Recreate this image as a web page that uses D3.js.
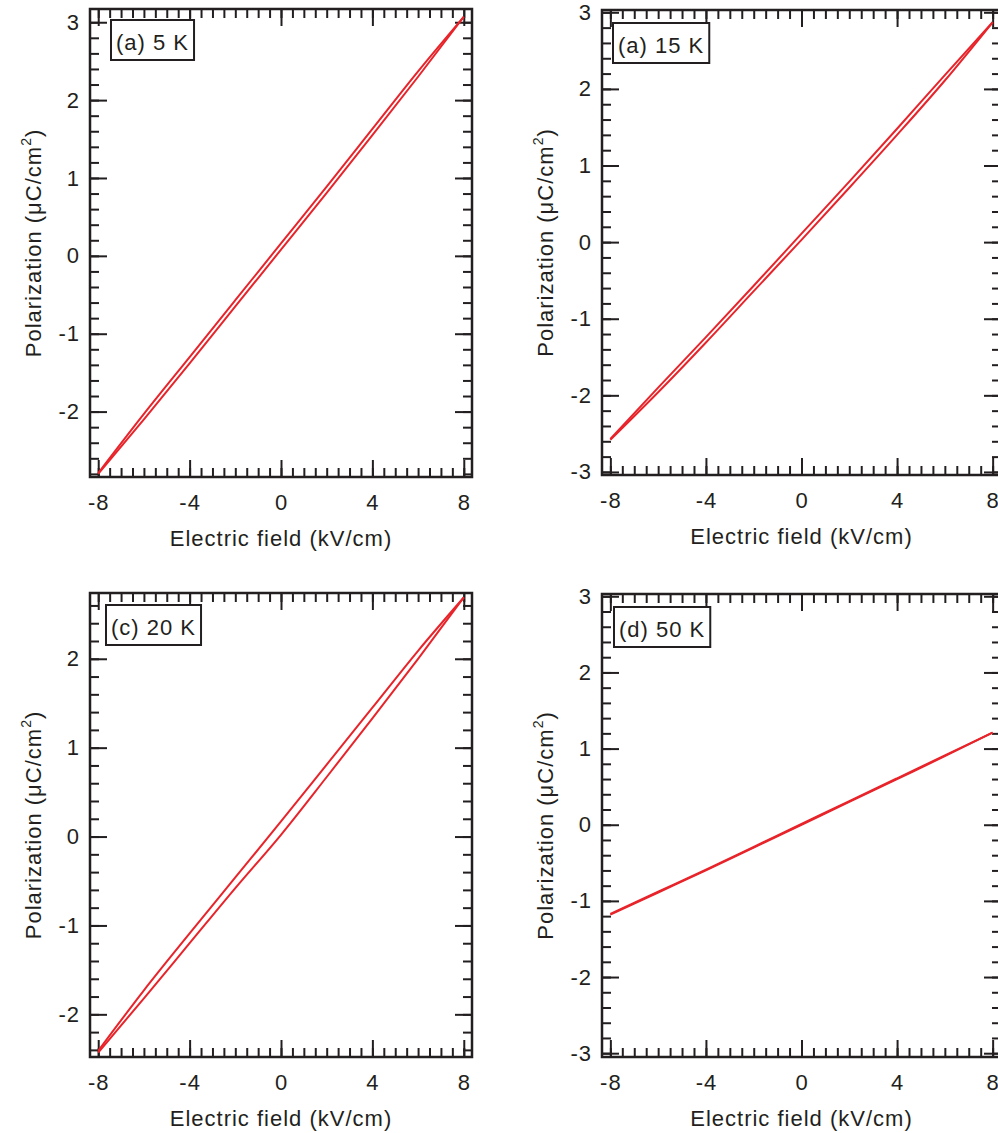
<!DOCTYPE html>
<html>
<head>
<meta charset="utf-8">
<script src="https://cdn.jsdelivr.net/npm/d3@7"></script>
<style>
  html, body { margin: 0; padding: 0; background: #fff; overflow: hidden; }
  svg { display: block; }
  text { font-family: "Liberation Sans", Arial, Helvetica, sans-serif; fill: #231f20; letter-spacing: 1px; }
</style>
</head>
<body>
<svg id="chart" width="998" height="1133"></svg>
<script>
// ============================================================
//  P-E hysteresis loops, four temperatures
// ============================================================

// --- Data ---
const fieldPts = [-8, -6, -4, -2, 0, 2, 4, 6, 8];          // kV/cm

// rising branch (field swept up) / falling branch (field swept down), µC/cm²
const rise5K  = [-2.80, -2.10, -1.38, -0.65, 0.08, 0.81, 1.55, 2.30, 3.07];
const fall5K  = [-2.79, -2.03, -1.30, -0.57, 0.16, 0.89, 1.63, 2.37, 3.07];
const rise15K = [-2.58, -1.96, -1.31, -0.64, 0.03, 0.71, 1.40, 2.11, 2.87];
const fall15K = [-2.57, -1.90, -1.24, -0.57, 0.11, 0.79, 1.48, 2.18, 2.87];
const rise20K = [-2.43, -1.82, -1.20, -0.58, 0.02, 0.67, 1.33, 2.00, 2.69];
const fall20K = [-2.41, -1.73, -1.09, -0.46, 0.17, 0.81, 1.45, 2.09, 2.69];
const rise50K = [-1.18, -0.89, -0.60, -0.30, 0.00, 0.30, 0.60, 0.90, 1.21];
const fall50K = [-1.17, -0.88, -0.59, -0.29, 0.01, 0.31, 0.61, 0.91, 1.21];

const panelLabels = ['(a) 5 K', '(a) 15 K', '(c) 20 K', '(d) 50 K'];

const xTicks  = [-8, -4, 0, 4, 8];
const yTicksA = [-2, -1, 0, 1, 2, 3];
const yTicksB = [-3, -2, -1, 0, 1, 2, 3];
const yTicksC = [-2, -1, 0, 1, 2];
const yTicksD = [-3, -2, -1, 0, 1, 2, 3];

const xLimitsL = [-8.36, 8.36];
const xLimitsR = [-8.35, 8.35];
const yLimitsA = [-2.84, 3.17];
const yLimitsB = [-3.04, 3.03];
const yLimitsC = [-2.48, 2.74];
const yLimitsD = [-3.05, 3.03];

// --- Layout ---
const INK = '#231f20';
const RED = '#e8242b';
const FONT = 22;

const panels = [
    { left: 90,  top: 9,   w: 382, h: 468, xDom: xLimitsL, yDom: yLimitsA, yTicks: yTicksA,
      rise: rise5K,  fall: fall5K,  label: panelLabels[0], box: [21, 11] },
    { left: 602, top: 10,  w: 399, h: 465, xDom: xLimitsR, yDom: yLimitsB, yTicks: yTicksB,
      rise: rise15K, fall: fall15K, label: panelLabels[1], box: [11, 13] },
    { left: 90,  top: 593, w: 382, h: 464, xDom: xLimitsL, yDom: yLimitsC, yTicks: yTicksC,
      rise: rise20K, fall: fall20K, label: panelLabels[2], box: [16, 12] },
    { left: 602, top: 594, w: 399, h: 463, xDom: xLimitsR, yDom: yLimitsD, yTicks: yTicksD,
      rise: rise50K, fall: fall50K, label: panelLabels[3], box: [12, 13] }
];

const svg = d3.select('#chart');

panels.forEach(p => drawPanel(p));

function styleAxis(g) {
    g.select('.domain').remove();
    g.selectAll('line').attr('stroke', INK).attr('stroke-width', 2);
    g.selectAll('text')
        .attr('font-size', FONT)
        .attr('font-family', '"Liberation Sans", Arial, Helvetica, sans-serif')
        .attr('fill', INK);
}

function drawPanel(p) {
    const g = svg.append('g').attr('transform', `translate(${p.left},${p.top})`);

    const x = d3.scaleLinear().domain(p.xDom).range([0, p.w]);
    const y = d3.scaleLinear().domain(p.yDom).range([p.h, 0]);

    const xMinor = d3.range(-16, 17).map(i => i * 0.5)
        .filter(v => v > p.xDom[0] && v < p.xDom[1]);
    const yMinor = d3.range(-20, 21).map(i => +(i * 0.2).toFixed(1))
        .filter(v => v > p.yDom[0] && v < p.yDom[1]);

    const MAJ = 17, MIN = 9;

    // --- minor ticks (all four sides, pointing inward) ---
    g.append('g').attr('transform', `translate(0,${p.h})`)
        .call(d3.axisBottom(x).tickValues(xMinor).tickSize(-MIN).tickFormat(''))
        .call(styleAxis);
    g.append('g')
        .call(d3.axisTop(x).tickValues(xMinor).tickSize(-MIN).tickFormat(''))
        .call(styleAxis);
    g.append('g')
        .call(d3.axisLeft(y).tickValues(yMinor).tickSize(-MIN).tickFormat(''))
        .call(styleAxis);
    g.append('g').attr('transform', `translate(${p.w},0)`)
        .call(d3.axisRight(y).tickValues(yMinor).tickSize(-MIN).tickFormat(''))
        .call(styleAxis);

    // --- major ticks ---
    g.append('g').attr('transform', `translate(0,${p.h})`)
        .call(d3.axisBottom(x).tickValues(xTicks).tickSize(-MAJ).tickPadding(17)
            .tickFormat(d => String(d)))
        .call(styleAxis);
    g.append('g')
        .call(d3.axisTop(x).tickValues(xTicks).tickSize(-MAJ).tickFormat(''))
        .call(styleAxis);
    g.append('g')
        .call(d3.axisLeft(y).tickValues(p.yTicks).tickSize(-MAJ).tickPadding(10)
            .tickFormat(d => String(d)))
        .call(styleAxis);
    g.append('g').attr('transform', `translate(${p.w},0)`)
        .call(d3.axisRight(y).tickValues(p.yTicks).tickSize(-MAJ).tickFormat(''))
        .call(styleAxis);

    // --- frame ---
    g.append('rect')
        .attr('x', 0).attr('y', 0)
        .attr('width', p.w).attr('height', p.h)
        .attr('fill', 'none')
        .attr('stroke', INK)
        .attr('stroke-width', 2.5);

    // --- loop branches ---
    const line = d3.line()
        .x(d => x(d[0]))
        .y(d => y(d[1]))
        .curve(d3.curveMonotoneX);

    [p.rise, p.fall].forEach(branch => {
        g.append('path')
            .datum(fieldPts.map((e, i) => [e, branch[i]]))
            .attr('d', line)
            .attr('fill', 'none')
            .attr('stroke', RED)
            .attr('stroke-width', 2)
            .attr('stroke-linejoin', 'round');
    });

    // --- axis titles ---
    g.append('text')
        .attr('x', p.w / 2)
        .attr('y', p.h + 69)
        .attr('text-anchor', 'middle')
        .attr('font-size', FONT)
        .text('Electric field (kV/cm)');

    const yt = g.append('text')
        .attr('transform', `translate(-49,${p.h / 2}) rotate(-90)`)
        .attr('text-anchor', 'middle')
        .attr('font-size', FONT);
    yt.append('tspan').text('Polarization (\u03bcC/cm');
    yt.append('tspan').attr('font-size', 14).attr('dy', -10).text('2');
    yt.append('tspan').attr('dy', 10).text(')');

    // --- panel label box ---
    const lb = g.append('g').attr('transform', `translate(${p.box[0]},${p.box[1]})`);
    const lt = lb.append('text')
        .attr('x', 5)
        .attr('y', 30)
        .attr('font-size', FONT)
        .text(p.label);
    const bw = lt.node().getComputedTextLength() + 10;
    lb.insert('rect', 'text')
        .attr('x', 0).attr('y', 0)
        .attr('width', bw).attr('height', 40)
        .attr('fill', '#fff')
        .attr('stroke', INK)
        .attr('stroke-width', 2);
}
</script>
</body>
</html>
